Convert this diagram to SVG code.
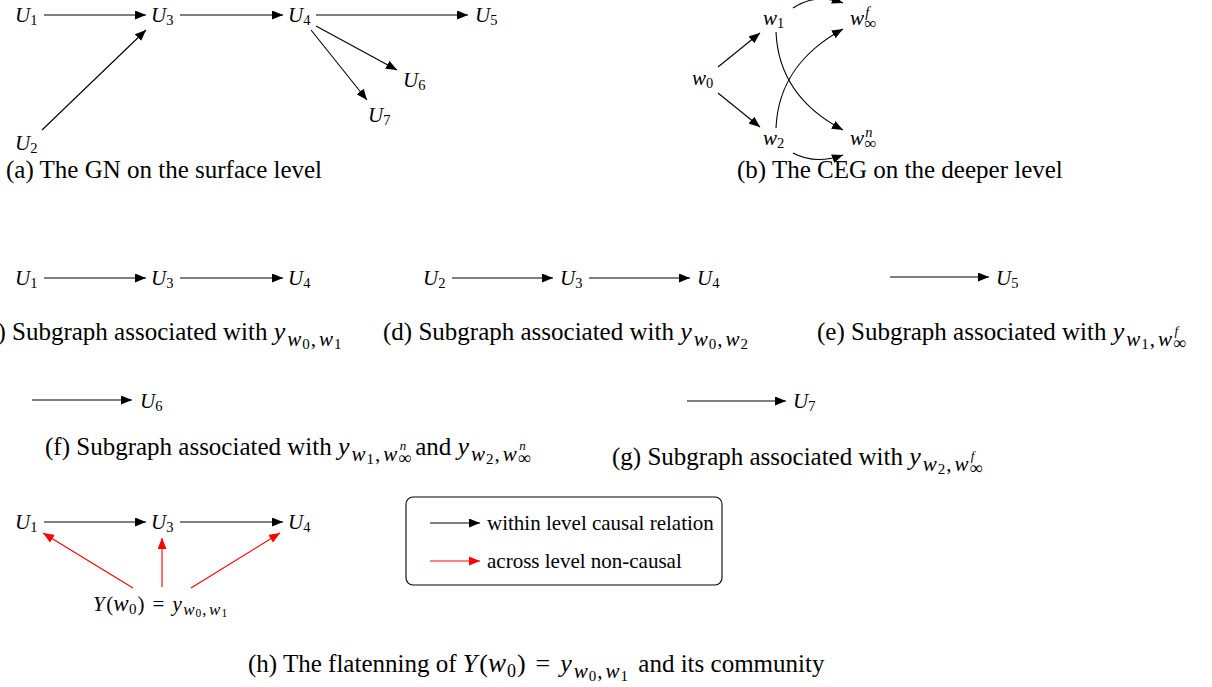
<svg xmlns="http://www.w3.org/2000/svg" width="1212" height="687" viewBox="0 0 1212 687">
<style>
.n{font-family:"Liberation Serif",serif;font-size:21px;fill:#000}
.mi{font-style:italic}
.cap{font-family:"Liberation Serif",serif;font-size:25px;fill:#000}
.lg{font-family:"Liberation Serif",serif;font-size:21px;fill:#000}
.e{stroke:#000;stroke-width:1.1;fill:none;marker-end:url(#ah)}
.r{stroke:#f00;stroke-width:1.1;fill:none;marker-end:url(#ahr)}
</style>
<defs>
<marker id="ah" viewBox="0 0 11 9" refX="11" refY="4.5" markerWidth="11" markerHeight="9" markerUnits="userSpaceOnUse" orient="auto"><path d="M0,0 L11,4.5 L0,9 z" fill="#000"/></marker>
<marker id="ahr" viewBox="0 0 11 9" refX="11" refY="4.5" markerWidth="11" markerHeight="9" markerUnits="userSpaceOnUse" orient="auto"><path d="M0,0 L11,4.5 L0,9 z" fill="#f00"/></marker>
</defs>
<rect width="1212" height="687" fill="#fff"/>

<!-- (a) -->
<g id="a-U1"><text class="n" x="15" y="22"><tspan class="mi">U</tspan><tspan font-size="14.5" dy="3">1</tspan></text></g>
<g id="a-U3"><text class="n" x="151" y="22"><tspan class="mi">U</tspan><tspan font-size="14.5" dy="3">3</tspan></text></g>
<g id="a-U4"><text class="n" x="288" y="22"><tspan class="mi">U</tspan><tspan font-size="14.5" dy="3">4</tspan></text></g>
<g id="a-U5"><text class="n" x="475" y="22"><tspan class="mi">U</tspan><tspan font-size="14.5" dy="3">5</tspan></text></g>
<g id="a-U6"><text class="n" x="403" y="87"><tspan class="mi">U</tspan><tspan font-size="14.5" dy="3">6</tspan></text></g>
<g id="a-U7"><text class="n" x="368" y="122"><tspan class="mi">U</tspan><tspan font-size="14.5" dy="3">7</tspan></text></g>
<g id="a-U2"><text class="n" x="15" y="150"><tspan class="mi">U</tspan><tspan font-size="14.5" dy="3">2</tspan></text></g>

<!-- (b) -->
<g id="b-w0"><text class="n" x="692" y="85"><tspan class="mi">w</tspan><tspan font-size="14.5" dy="3">0</tspan></text></g>
<g id="b-w1"><text class="n" x="763" y="25"><tspan class="mi">w</tspan><tspan font-size="14.5" dy="3">1</tspan></text></g>
<g id="b-w2"><text class="n" x="763" y="145"><tspan class="mi">w</tspan><tspan font-size="14.5" dy="3">2</tspan></text></g>
<g id="b-wf"><text class="n" x="850" y="25"><tspan class="mi">w</tspan><tspan font-size="17" dx="0.5" dy="4">∞</tspan><tspan class="mi" font-size="14.5" dx="-11.5" dy="-12">f</tspan></text></g>
<g id="b-wn"><text class="n" x="850" y="145"><tspan class="mi">w</tspan><tspan font-size="17" dx="0.5" dy="4">∞</tspan><tspan class="mi" font-size="14.5" dx="-11.5" dy="-12">n</tspan></text></g>

<!-- (c) -->
<g id="c-U1"><text class="n" x="15" y="285"><tspan class="mi">U</tspan><tspan font-size="14.5" dy="3">1</tspan></text></g>
<g id="c-U3"><text class="n" x="151" y="285"><tspan class="mi">U</tspan><tspan font-size="14.5" dy="3">3</tspan></text></g>
<g id="c-U4"><text class="n" x="288" y="285"><tspan class="mi">U</tspan><tspan font-size="14.5" dy="3">4</tspan></text></g>

<!-- (d) -->
<g id="d-U2"><text class="n" x="423" y="285"><tspan class="mi">U</tspan><tspan font-size="14.5" dy="3">2</tspan></text></g>
<g id="d-U3"><text class="n" x="560" y="285"><tspan class="mi">U</tspan><tspan font-size="14.5" dy="3">3</tspan></text></g>
<g id="d-U4"><text class="n" x="697" y="285"><tspan class="mi">U</tspan><tspan font-size="14.5" dy="3">4</tspan></text></g>

<!-- (e) -->
<g id="e-U5"><text class="n" x="996" y="285"><tspan class="mi">U</tspan><tspan font-size="14.5" dy="3">5</tspan></text></g>

<!-- (f) -->
<g id="f-U6"><text class="n" x="140" y="408"><tspan class="mi">U</tspan><tspan font-size="14.5" dy="3">6</tspan></text></g>

<!-- (g) -->
<g id="g-U7"><text class="n" x="793" y="408"><tspan class="mi">U</tspan><tspan font-size="14.5" dy="3">7</tspan></text></g>

<!-- (h) -->
<g id="h-U1"><text class="n" x="15" y="529"><tspan class="mi">U</tspan><tspan font-size="14.5" dy="3">1</tspan></text></g>
<g id="h-U3"><text class="n" x="151" y="529"><tspan class="mi">U</tspan><tspan font-size="14.5" dy="3">3</tspan></text></g>
<g id="h-U4"><text class="n" x="288" y="529"><tspan class="mi">U</tspan><tspan font-size="14.5" dy="3">4</tspan></text></g>
<g id="h-Y"><text class="n" x="93" y="611"><tspan class="mi">Y</tspan><tspan dx="1.5">(</tspan><tspan class="mi" font-size="23">w</tspan><tspan font-size="15" dx="0.5" dy="3">0</tspan><tspan dy="-3" dx="1">)</tspan><tspan dx="8">=</tspan><tspan class="mi" dx="8">y</tspan><tspan class="mi" font-size="17" dx="1.5" dy="4">w</tspan><tspan font-size="11.5" dx="1" dy="2">0</tspan><tspan font-size="17" dx="1" dy="-2">,</tspan><tspan class="mi" font-size="17" dx="2.5">w</tspan><tspan font-size="11.5" dx="1" dy="2">1</tspan></text></g>

<!-- legend -->
<g id="legend">
<rect x="406" y="497" width="316" height="88" rx="7" fill="none" stroke="#000" stroke-width="1.1"/>
<line class="e" x1="430" y1="523" x2="480" y2="523"/>
<text class="lg" x="487" y="530">within level causal relation</text>
<line class="r" x1="430" y1="561" x2="480" y2="561"/>
<text class="lg" x="487" y="568">across level non-causal</text>
</g>

<g id="connectors">
<!-- (a) -->
<line class="e" x1="44" y1="15" x2="146" y2="15"/>
<line class="e" x1="180" y1="15" x2="283" y2="15"/>
<line class="e" x1="316" y1="15" x2="468" y2="15"/>
<line class="e" x1="316" y1="26" x2="397" y2="70"/>
<line class="e" x1="311" y1="30" x2="367" y2="100"/>
<line class="e" x1="42" y1="130" x2="146" y2="30"/>
<!-- (b) -->
<line class="e" x1="718" y1="67" x2="760" y2="33"/>
<line class="e" x1="718" y1="93" x2="760" y2="127"/>
<path class="e" d="M793,8 Q815,-7 843,3"/>
<path class="e" d="M776,32 C778,80 805,110 843,130"/>
<path class="e" d="M776,128 C778,80 805,50 843,29"/>
<path class="e" d="M793,153 Q815,165 843,155"/>
<!-- (c) -->
<line class="e" x1="44" y1="278" x2="146" y2="278"/>
<line class="e" x1="180" y1="278" x2="283" y2="278"/>
<!-- (d) -->
<line class="e" x1="452" y1="278" x2="553" y2="278"/>
<line class="e" x1="589" y1="278" x2="690" y2="278"/>
<!-- (e) -->
<line class="e" x1="890" y1="277" x2="989" y2="277"/>
<!-- (f) -->
<line class="e" x1="32" y1="400" x2="132" y2="400"/>
<!-- (g) -->
<line class="e" x1="687" y1="401" x2="786" y2="401"/>
<!-- (h) -->
<line class="e" x1="44" y1="522" x2="146" y2="522"/>
<line class="e" x1="180" y1="522" x2="283" y2="522"/>
<line class="r" x1="133" y1="588" x2="43" y2="533"/>
<line class="r" x1="162" y1="587" x2="162" y2="538"/>
<line class="r" x1="191" y1="588" x2="280" y2="533"/>
</g>

<g id="captions">
<text class="cap" x="6" y="178">(a) The GN on the surface level</text>
<text class="cap" x="737" y="178">(b) The CEG on the deeper level</text>
<text class="cap" x="-22" y="340">(c) Subgraph associated with <tspan class="mi" font-size="26">y</tspan><tspan class="mi" font-size="21" dx="2" dy="6">w</tspan><tspan font-size="15" dx="1" dy="3">0</tspan><tspan font-size="21" dx="1" dy="-3">,</tspan><tspan class="mi" font-size="21" dx="3">w</tspan><tspan font-size="15" dx="1" dy="3">1</tspan></text>
<text class="cap" x="383" y="340">(d) Subgraph associated with <tspan class="mi" font-size="26">y</tspan><tspan class="mi" font-size="21" dx="2" dy="6">w</tspan><tspan font-size="15" dx="1" dy="3">0</tspan><tspan font-size="21" dx="1" dy="-3">,</tspan><tspan class="mi" font-size="21" dx="3">w</tspan><tspan font-size="15" dx="1" dy="3">2</tspan></text>
<text class="cap" x="817" y="340">(e) Subgraph associated with <tspan class="mi" font-size="26">y</tspan><tspan class="mi" font-size="21" dx="2" dy="6">w</tspan><tspan font-size="15" dx="1" dy="3">1</tspan><tspan font-size="21" dx="1" dy="-3">,</tspan><tspan class="mi" font-size="21" dx="3">w</tspan><tspan font-size="18" dx="1" dy="3">∞</tspan><tspan class="mi" font-size="13" dx="-11.5" dy="-14">f</tspan></text>
<text class="cap" x="45" y="455">(f) Subgraph associated with <tspan class="mi" font-size="26">y</tspan><tspan class="mi" font-size="21" dx="2" dy="6">w</tspan><tspan font-size="15" dx="1" dy="3">1</tspan><tspan font-size="21" dx="1" dy="-3">,</tspan><tspan class="mi" font-size="21" dx="3">w</tspan><tspan font-size="18" dx="1" dy="3">∞</tspan><tspan class="mi" font-size="13" dx="-11.5" dy="-14">n</tspan><tspan dy="5" dx="9">and </tspan><tspan class="mi" font-size="26">y</tspan><tspan class="mi" font-size="21" dx="2" dy="6">w</tspan><tspan font-size="15" dx="1" dy="3">2</tspan><tspan font-size="21" dx="1" dy="-3">,</tspan><tspan class="mi" font-size="21" dx="3">w</tspan><tspan font-size="18" dx="1" dy="3">∞</tspan><tspan class="mi" font-size="13" dx="-11.5" dy="-14">n</tspan></text>
<text class="cap" x="612" y="465">(g) Subgraph associated with <tspan class="mi" font-size="26">y</tspan><tspan class="mi" font-size="21" dx="2" dy="6">w</tspan><tspan font-size="15" dx="1" dy="3">2</tspan><tspan font-size="21" dx="1" dy="-3">,</tspan><tspan class="mi" font-size="21" dx="3">w</tspan><tspan font-size="18" dx="1" dy="3">∞</tspan><tspan class="mi" font-size="13" dx="-11.5" dy="-14">f</tspan></text>
<text class="cap" x="248" y="672">(h) The flatenning of <tspan class="mi" font-size="26">Y</tspan><tspan font-size="26" dx="2">(</tspan><tspan class="mi" font-size="27">w</tspan><tspan font-size="18" dx="1" dy="5">0</tspan><tspan font-size="26" dx="1" dy="-5">)</tspan><tspan font-size="26" dx="10">=</tspan><tspan class="mi" font-size="26" dx="10">y</tspan><tspan class="mi" font-size="21" dx="2" dy="6">w</tspan><tspan font-size="15" dx="1" dy="3">0</tspan><tspan font-size="21" dx="1" dy="-3">,</tspan><tspan class="mi" font-size="21" dx="3">w</tspan><tspan font-size="15" dx="1" dy="3">1</tspan><tspan dy="-9" dx="4"> and its community</tspan></text>
</g>
</svg>
